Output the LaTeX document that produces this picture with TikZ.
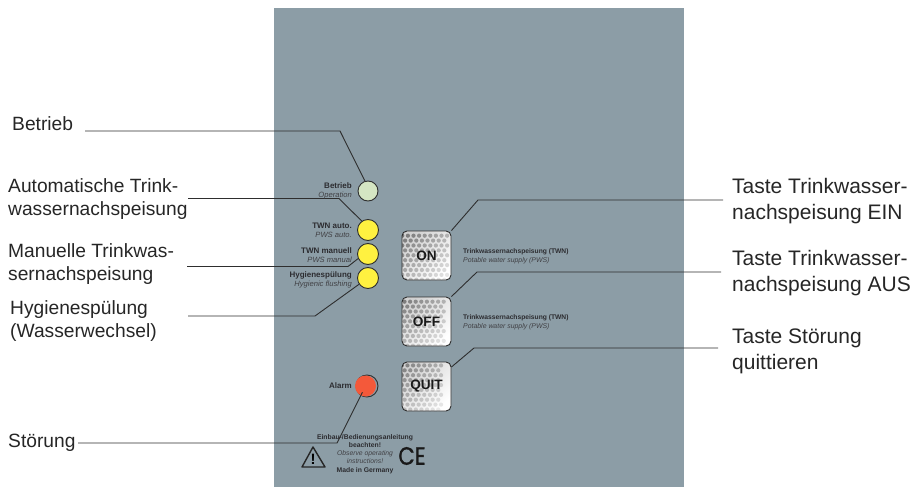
\documentclass[tikz,border=0pt]{standalone}
\usepackage{fontspec}
\setmainfont{Liberation Sans}
\newfontfamily\cefont[FakeBold=1.2]{Poppins}
\definecolor{panelgrey}{HTML}{8C9DA6}
\definecolor{linegrey}{HTML}{2E2E2E}
\definecolor{ledgreen}{HTML}{D5E6C3}
\definecolor{ledyellow}{HTML}{FFF140}
\definecolor{ledred}{HTML}{F4593A}
\definecolor{printgrey}{HTML}{2C2C30}
\tikzset{
	lead/.style={draw=linegrey, line width=0.9pt},
	led/.style={circle, draw=linegrey, line width=0.9pt, inner sep=0pt, minimum size=#1},
	bigleft/.style={anchor=base west, align=left, inner sep=0pt, text=black!85, font=\fontsize{19.2}{23}\selectfont},
	bigright/.style={anchor=base west, align=left, inner sep=0pt, text=black!85, font=\fontsize{21}{26}\selectfont},
	strong/.style={anchor=base east, inner sep=0pt, text=printgrey, font=\fontsize{8}{9}\selectfont\bfseries},
	weak/.style={anchor=base east, inner sep=0pt, text=printgrey!90, font=\fontsize{7.6}{9}\selectfont\itshape},
	honeybutton/.style={rectangle, rounded corners=5pt, draw=linegrey, line width=0.9pt, minimum size=49pt, inner sep=0pt,
		text=black!90, font=\fontsize{13.6}{14}\selectfont\bfseries,
		path picture={
			\shade[top color=black!18, bottom color=white, shading angle=45] (path picture bounding box.south west) rectangle (path picture bounding box.north east);
			\begin{scope}[shift={(path picture bounding box.center)}]
				\foreach \row in {-5,...,5} {
					\foreach \col in {-5,...,5} {
						\pgfmathsetmacro{\dotx}{\col*5.6+mod(abs(\row),2)*2.8}
						\pgfmathsetmacro{\doty}{\row*4.9}
						\pgfmathsetmacro{\dotpct}{34-26*(\dotx+\doty)/50}
						\fill[black!\dotpct] (\dotx,\doty) circle (2.1pt);
					}
				}
			\end{scope}
		}},
}
\begin{document}
\begin{tikzpicture}[x=1pt, y=-1pt]
	
	\useasboundingbox (0,0) rectangle (923,487);
	
	% Panel in grey
	\fill[panelgrey] (274,8) rectangle (684,487);
	
	% Lamps
	\node[led=20pt, fill=ledgreen] (L_betrieb) at (368,191) {};
	\node[led=21pt, fill=ledyellow] (L_auto) at (368,230) {};
	\node[led=21pt, fill=ledyellow] (L_manuell) at (368,254) {};
	\node[led=21pt, fill=ledyellow] (L_hygiene) at (368,278) {};
	\node[led=22pt] (L_ring) at (367,386) {};
	\node[circle, fill=ledred, inner sep=0pt, minimum size=21pt] (L_alarm) at (365.5,386) {};
	
	% Buttons
	\node[honeybutton] (B_on) at (426.5,255.5) {ON};
	\node[honeybutton] (B_off) at (426.5,321.5) {OFF};
	\node[honeybutton] (B_quit) at (426.5,386.5) {QUIT};
	
	% Free ends of the leader lines
	\coordinate (E_betrieb) at (85,131);
	\coordinate (E_auto) at (188,198.5);
	\coordinate (E_manuell) at (187,266.5);
	\coordinate (E_hygiene) at (188,316);
	\coordinate (E_alarm) at (78,443);
	\coordinate (E_on) at (723,200);
	\coordinate (E_off) at (721,272);
	\coordinate (E_quit) at (718,348);
	
	% Leader lines
	\draw[lead] (E_betrieb) -- (340,131) -- (L_betrieb.107);
	\draw[lead] (E_auto) -- (339,198.5) -- (L_auto.125);
	\draw[lead] (E_manuell) -- (348,266.5) -- (L_manuell.205);
	\draw[lead] (E_hygiene) -- (315,316) -- (L_hygiene.215);
	\draw[lead, shorten >=7pt] (E_alarm) -- (337,443) -- (L_alarm.center);
	\draw[lead] (E_on) -- (478,200) -- (B_on.north east);
	\draw[lead] (E_off) -- (477,272) -- (B_off.north east);
	\draw[lead] (E_quit) -- (474,348) -- (B_quit.38);
	
	% Labels left of the panel
	\node[bigleft] (T_betrieb) at (12,130) {Betrieb};
	\node[bigleft] (T_auto) at (8,215) {Automatische Trink-\\wassernachspeisung};
	\node[bigleft] (T_manuell) at (8,280) {Manuelle Trinkwas-\\sernachspeisung};
	\node[bigleft] (T_hygiene) at (10,337) {Hygienespülung\\(Wasserwechsel)};
	\node[bigleft] (T_alarm) at (8,447) {Störung};
	
	% Labels right of the panel
	\node[bigright] (T_on) at (732,219) {Taste Trinkwasser-\\nachspeisung EIN};
	\node[bigright] (T_off) at (732,291) {Taste Trinkwasser-\\nachspeisung AUS};
	\node[bigright] (T_quit) at (732,369) {Taste Störung\\quittieren};
	
	% Print on the panel
	\foreach \name/\ypos/\first/\second in {betrieb/188/Betrieb/Operation, auto/228/TWN auto./PWS auto., manuell/253/TWN manuell/PWS manual, hygiene/277/Hygienespülung/Hygienic flushing} {
		\node[strong] (P_\name) at (352,\ypos) {\first};
		\node[weak] (Q_\name) at (352,\ypos+9) {\second};
	}
	\node[strong] (P_alarm) at (352,388) {Alarm};
	\foreach \name/\ypos in {on/253, off/319} {
		\node[strong, anchor=base west, font=\fontsize{6.7}{9}\selectfont\bfseries] (P_\name) at (463,\ypos) {Trinkwassernachspeisung (TWN)};
		\node[weak, anchor=base west, font=\fontsize{6.9}{9}\selectfont\itshape] (Q_\name) at (463,\ypos+9) {Potable water supply (PWS)};
	}
	
	% Note at the bottom
	\node[strong, anchor=base, font=\fontsize{6.8}{8}\selectfont\bfseries] (N_a) at (365,439) {Einbau-/Bedienungsanleitung};
	\node[strong, anchor=base, font=\fontsize{6.8}{8}\selectfont\bfseries] (N_b) at (365,447) {beachten!};
	\node[weak, anchor=base, font=\fontsize{6.8}{8}\selectfont\itshape] (N_c) at (365,455) {Observe operating};
	\node[weak, anchor=base, font=\fontsize{6.8}{8}\selectfont\itshape] (N_d) at (365,463) {instructions!};
	\node[strong, anchor=base, font=\fontsize{6.8}{8}\selectfont\bfseries] (N_e) at (365,472) {Made in Germany};
	
	% Warning sign and CE mark
	\draw[draw=black!85, line width=1.4pt, line join=round] (313,447) -- (302,467) -- (325,467) -- cycle;
	\node[inner sep=0pt, font=\fontsize{15}{15}\selectfont\bfseries] (W_sign) at (313,459.5) {!};
	\node[inner sep=0pt, xscale=0.85, transform shape, text=black!90, font=\cefont\fontsize{25}{25}\selectfont] (C_mark) at (412,456) {CE};
	
\end{tikzpicture}
\end{document}
